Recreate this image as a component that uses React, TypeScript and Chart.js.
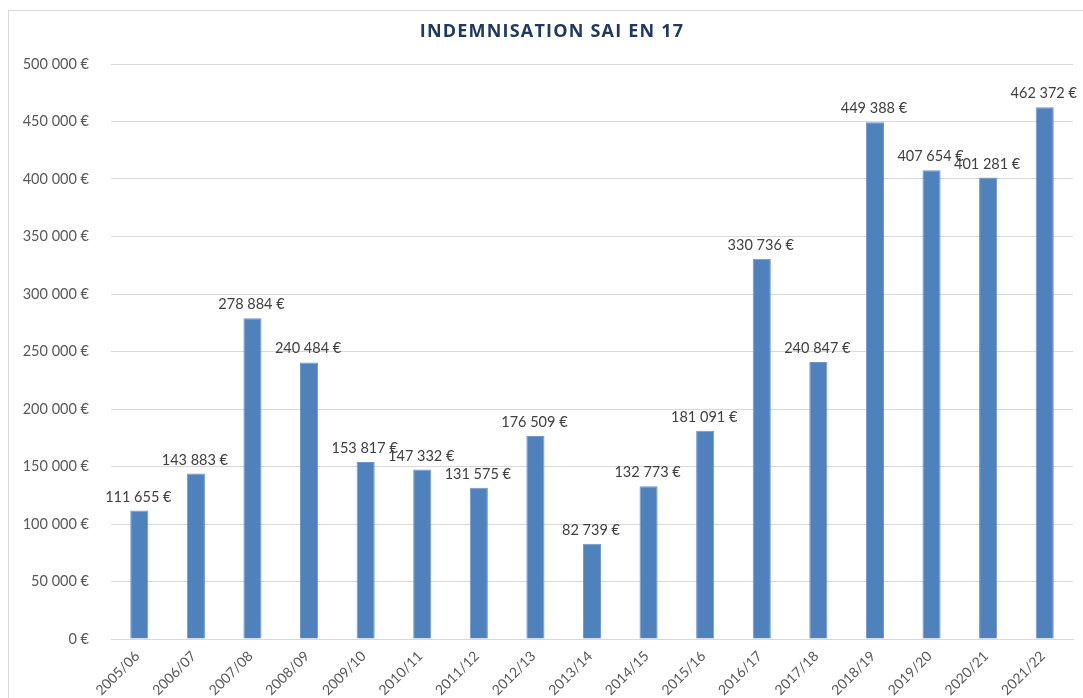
import React, { useEffect, useRef } from "react";
import { Chart, registerables } from "chart.js";

Chart.register(...registerables);

const TITLE = "INDEMNISATION SAI EN 17";
const categories = [
  "2005/06", "2006/07", "2007/08", "2008/09", "2009/10", "2010/11", "2011/12", "2012/13",
  "2013/14", "2014/15", "2015/16", "2016/17", "2017/18", "2018/19", "2019/20", "2020/21", "2021/22",
];
const values = [
  111655, 143883, 278884, 240484, 153817, 147332, 131575, 176509,
  82739, 132773, 181091, 330736, 240847, 449388, 407654, 401281, 462372,
];
const yMin = 0;
const yMax = 500000;
const yStep = 50000;

const FONT = "Lato, 'Open Sans', sans-serif";
const TITLE_FONT = "'Open Sans', Lato, sans-serif";

function fmtEuro(v: number): string {
  const s = Math.round(v).toString();
  const parts: string[] = [];
  for (let i = s.length; i > 0; i -= 3) parts.unshift(s.slice(Math.max(0, i - 3), i));
  return parts.join(" ") + " €";
}

const labelPlugin = {
  id: "barLabels",
  afterDatasetsDraw(chart: any) {
    const ctx = chart.ctx;
    const meta = chart.getDatasetMeta(0);
    ctx.save();
    ctx.font = `14.5px ${FONT}`;
    ctx.fillStyle = "#404040";
    ctx.textAlign = "center";
    ctx.textBaseline = "alphabetic";
    meta.data.forEach((bar: any, i: number) => {
      ctx.fillText(fmtEuro(values[i]), bar.x - 1, bar.y - 9);
    });
    ctx.restore();
  },
};

const titlePlugin = {
  id: "customTitle",
  afterDraw(chart: any) {
    const ctx = chart.ctx;
    ctx.save();
    ctx.font = `bold 18px ${TITLE_FONT}`;
    (ctx as any).letterSpacing = "1.2px";
    ctx.fillStyle = "#1F3864";
    ctx.textAlign = "center";
    ctx.textBaseline = "middle";
    ctx.fillText(TITLE, 543, 21);
    ctx.restore();
  },
};

export default function App() {
  const ref = useRef<HTMLCanvasElement | null>(null);
  useEffect(() => {
    if (!ref.current) return;
    const chart = new Chart(ref.current, {
      type: "bar",
      data: {
        labels: categories,
        datasets: [
          {
            data: values,
            backgroundColor: "#4F81BD",
            borderColor: "#6D97CC",
            borderWidth: 1,
            barPercentage: 0.32,
            categoryPercentage: 1,
          },
        ],
      },
      options: {
        responsive: false,
        animation: false,
        layout: { padding: { top: 53, right: 10, left: 0, bottom: 0 } },
        plugins: { legend: { display: false }, tooltip: { enabled: false }, title: { display: false } },
        scales: {
          x: {
            grid: { display: false, drawTicks: false },
            border: { display: true, color: "#d9d9d9", width: 1 },
            ticks: {
              minRotation: 45,
              maxRotation: 45,
              padding: 9,
              labelOffset: -2,
              color: "#595959",
              font: { family: FONT, size: 14 },
              autoSkip: false,
            },
            afterFit(scale: any) {
              scale.height = 59;
            },
          },
          y: {
            min: yMin,
            max: yMax,
            grid: { color: "#d9d9d9", drawTicks: false },
            border: { display: false },
            ticks: {
              stepSize: yStep,
              padding: 22,
              color: "#595959",
              font: { family: FONT, size: 14.5 },
              callback: (v: any) => fmtEuro(Number(v)),
            },
            afterFit(scale: any) {
              scale.width = 102;
            },
          },
        },
      },
      plugins: [labelPlugin, titlePlugin],
    });
    return () => chart.destroy();
  }, []);

  return (
    <div
      style={{
        position: "absolute",
        left: 8,
        top: 10,
        width: 1074,
        height: 687,
        borderLeft: "1px solid #d9d9d9",
        borderTop: "1px solid #d9d9d9",
        background: "#fff",
        overflow: "hidden",
      }}
    >
      <canvas ref={ref} width={1074} height={687} style={{ display: "block" }} />
    </div>
  );
}
